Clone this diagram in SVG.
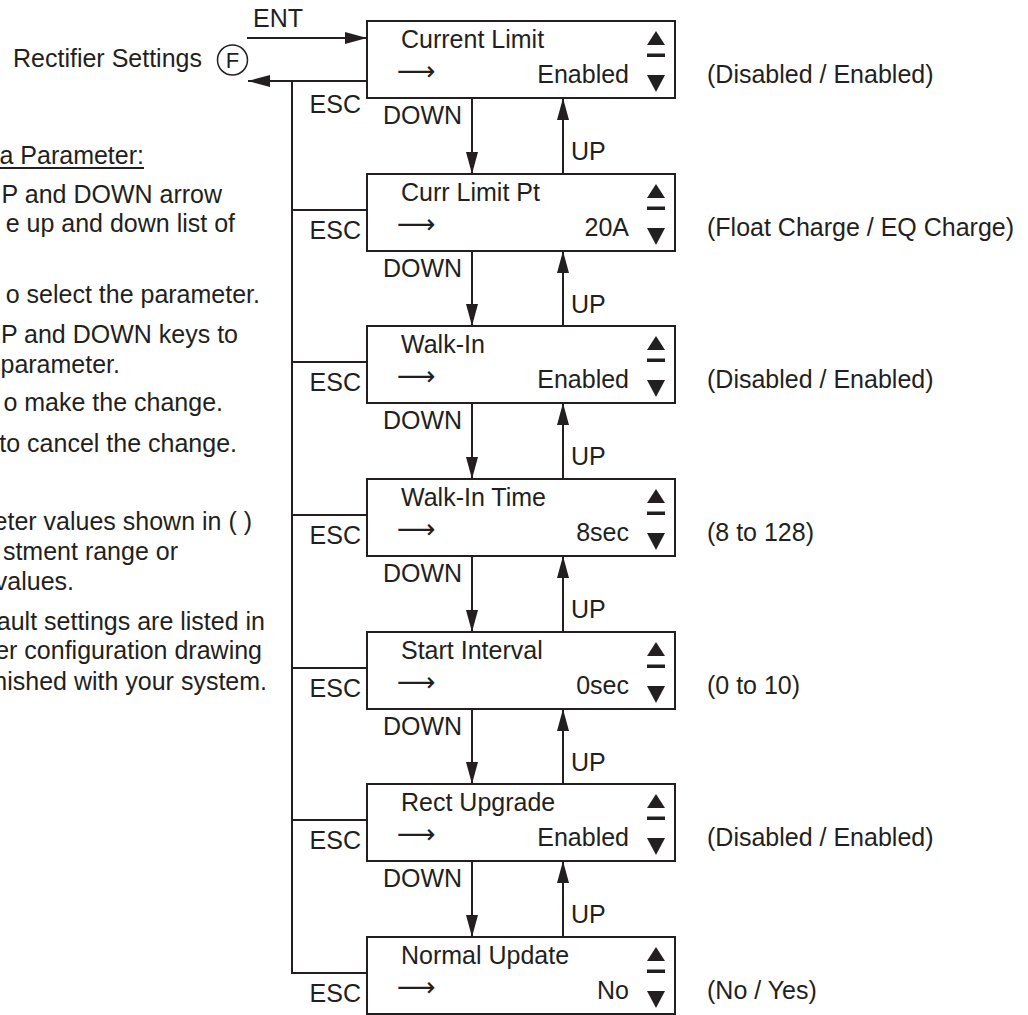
<svg xmlns="http://www.w3.org/2000/svg" width="1028" height="1015" viewBox="0 0 1028 1015">
<style>
.t{font-family:"Liberation Sans",Arial,sans-serif;font-size:25px;fill:#231f20}
.e{text-anchor:end}
.m{text-anchor:middle}
.ar{font-family:"DejaVu Sans",sans-serif;font-size:27px;fill:#231f20}
.box{fill:#fff;stroke:#231f20;stroke-width:2}
.ln{fill:none;stroke:#231f20;stroke-width:2}
.sym{fill:#231f20}
</style>
<defs>
<marker id="ah" viewBox="0 0 22 12" refX="22" refY="6" markerWidth="22" markerHeight="12" markerUnits="userSpaceOnUse" orient="auto">
<path d="M0,0 L22,6 L0,12 z" fill="#231f20"/>
</marker>
<g id="sy">
<polygon class="sym" points="647,24 656,10 665,24"/>
<rect class="sym" x="647" y="32.5" width="18" height="3.5"/>
<polygon class="sym" points="647,54 665,54 656,71"/>
</g>
</defs>
<rect width="1028" height="1015" fill="#fff"/>

<g id="notes">
<text class="t" x="13" y="67">Rectifier Settings</text>
<circle cx="232.5" cy="60" r="15" fill="none" stroke="#231f20" stroke-width="1.5"/>
<text class="t m" x="232.5" y="67.5" style="font-size:22px">F</text>
<text class="t e" x="144" y="164">a Parameter:</text>
<line class="ln" x1="0" y1="168" x2="144" y2="168"/>
<text class="t e" x="222" y="203">P and DOWN arrow</text>
<text class="t e" x="235" y="232">e up and down list of</text>
<text class="t e" x="260" y="303">o select the parameter.</text>
<text class="t e" x="238" y="343">P and DOWN keys to</text>
<text class="t e" x="120" y="373">parameter.</text>
<text class="t e" x="223" y="411">o make the change.</text>
<text class="t e" x="237" y="452">to cancel the change.</text>
<text class="t e" x="252" y="530">eter values shown in ( )</text>
<text class="t e" x="178" y="560">stment range or</text>
<text class="t e" x="74" y="590">values.</text>
<text class="t e" x="265" y="630">ault settings are listed in</text>
<text class="t e" x="262" y="659">er configuration drawing</text>
<text class="t e" x="267" y="690">nished with your system.</text>
</g>

<g id="connectors">
<line class="ln" x1="247" y1="38" x2="367" y2="38" marker-end="url(#ah)"/>
<text class="t" x="253" y="27">ENT</text>
<line class="ln" x1="368" y1="81" x2="248" y2="81" marker-end="url(#ah)"/>
<line class="ln" x1="292" y1="81" x2="292" y2="974"/>
<text class="t e" x="361" y="113">ESC</text>
<path class="ln" d="M292,210 H367 M292,362 H367 M292,515 H367 M292,668 H367 M292,820 H367 M292,973 H367"/>
<text class="t e" x="361" y="239">ESC</text>
<text class="t e" x="361" y="391">ESC</text>
<text class="t e" x="361" y="544">ESC</text>
<text class="t e" x="361" y="697">ESC</text>
<text class="t e" x="361" y="849">ESC</text>
<text class="t e" x="361" y="1002">ESC</text>

<line class="ln" x1="472" y1="98" x2="472" y2="174" marker-end="url(#ah)"/>
<line class="ln" x1="472" y1="251" x2="472" y2="326" marker-end="url(#ah)"/>
<line class="ln" x1="472" y1="403" x2="472" y2="479" marker-end="url(#ah)"/>
<line class="ln" x1="472" y1="556" x2="472" y2="632" marker-end="url(#ah)"/>
<line class="ln" x1="472" y1="709" x2="472" y2="784" marker-end="url(#ah)"/>
<line class="ln" x1="472" y1="861" x2="472" y2="937" marker-end="url(#ah)"/>

<line class="ln" x1="563" y1="174" x2="563" y2="98" marker-end="url(#ah)"/>
<line class="ln" x1="563" y1="326" x2="563" y2="251" marker-end="url(#ah)"/>
<line class="ln" x1="563" y1="479" x2="563" y2="403" marker-end="url(#ah)"/>
<line class="ln" x1="563" y1="632" x2="563" y2="556" marker-end="url(#ah)"/>
<line class="ln" x1="563" y1="784" x2="563" y2="709" marker-end="url(#ah)"/>
<line class="ln" x1="563" y1="937" x2="563" y2="861" marker-end="url(#ah)"/>

<text class="t" x="383" y="124">DOWN</text>
<text class="t" x="383" y="277">DOWN</text>
<text class="t" x="383" y="429">DOWN</text>
<text class="t" x="383" y="582">DOWN</text>
<text class="t" x="383" y="735">DOWN</text>
<text class="t" x="383" y="887">DOWN</text>
<text class="t" x="571" y="160">UP</text>
<text class="t" x="571" y="313">UP</text>
<text class="t" x="571" y="465">UP</text>
<text class="t" x="571" y="618">UP</text>
<text class="t" x="571" y="771">UP</text>
<text class="t" x="571" y="923">UP</text>
</g>

<g id="box1">
<rect class="box" x="367" y="21" width="308" height="77"/>
<text class="t" x="401" y="48">Current Limit</text>
<text class="ar" x="397" y="80">⟶</text>
<text class="t e" x="629" y="83">Enabled</text>
<use href="#sy" y="21"/>
<text class="t" x="707" y="83">(Disabled / Enabled)</text>
</g>
<g id="box2">
<rect class="box" x="367" y="174" width="308" height="77"/>
<text class="t" x="401" y="201">Curr Limit Pt</text>
<text class="ar" x="397" y="233">⟶</text>
<text class="t e" x="629" y="236">20A</text>
<use href="#sy" y="174"/>
<text class="t" x="707" y="236">(Float Charge / EQ Charge)</text>
</g>
<g id="box3">
<rect class="box" x="367" y="326" width="308" height="77"/>
<text class="t" x="401" y="353">Walk-In</text>
<text class="ar" x="397" y="385">⟶</text>
<text class="t e" x="629" y="388">Enabled</text>
<use href="#sy" y="326"/>
<text class="t" x="707" y="388">(Disabled / Enabled)</text>
</g>
<g id="box4">
<rect class="box" x="367" y="479" width="308" height="77"/>
<text class="t" x="401" y="506">Walk-In Time</text>
<text class="ar" x="397" y="538">⟶</text>
<text class="t e" x="629" y="541">8sec</text>
<use href="#sy" y="479"/>
<text class="t" x="707" y="541">(8 to 128)</text>
</g>
<g id="box5">
<rect class="box" x="367" y="632" width="308" height="77"/>
<text class="t" x="401" y="659">Start Interval</text>
<text class="ar" x="397" y="691">⟶</text>
<text class="t e" x="629" y="694">0sec</text>
<use href="#sy" y="632"/>
<text class="t" x="707" y="694">(0 to 10)</text>
</g>
<g id="box6">
<rect class="box" x="367" y="784" width="308" height="77"/>
<text class="t" x="401" y="811">Rect Upgrade</text>
<text class="ar" x="397" y="843">⟶</text>
<text class="t e" x="629" y="846">Enabled</text>
<use href="#sy" y="784"/>
<text class="t" x="707" y="846">(Disabled / Enabled)</text>
</g>
<g id="box7">
<rect class="box" x="367" y="937" width="308" height="77"/>
<text class="t" x="401" y="964">Normal Update</text>
<text class="ar" x="397" y="996">⟶</text>
<text class="t e" x="629" y="999">No</text>
<use href="#sy" y="937"/>
<text class="t" x="707" y="999">(No / Yes)</text>
</g>
</svg>
